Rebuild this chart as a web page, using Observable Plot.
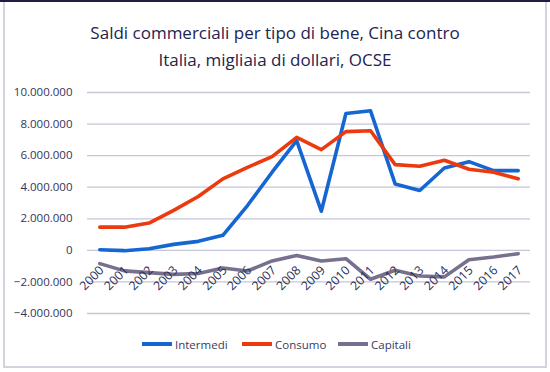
<!DOCTYPE html>
<html>
<head>
<meta charset="utf-8">
<script src="https://cdn.jsdelivr.net/npm/d3@7"></script>
<script src="https://cdn.jsdelivr.net/npm/@observablehq/plot@0.6"></script>
<style>
  html, body { margin: 0; padding: 0; background: #fff; }
  #wrap { position: relative; width: 550px; height: 372px; overflow: hidden; font-family: "Open Sans", sans-serif; }
  #topbar { position: absolute; left: 0; top: 0; width: 550px; height: 2px; background: #1d1d47; }
  #frame { position: absolute; left: 3px; top: 2px; width: 540px; height: 364px; border-left: 2px solid #d3d3de; border-right: 2px solid #d3d3de; border-bottom: 2px solid #d3d3de; }
  #title { position: absolute; left: 0; top: 19px; width: 550px; text-align: center; color: #23234f; font-size: 17px; line-height: 27px; }
  #chart { position: absolute; left: 0; top: 80px; }
  #legend { position: absolute; left: 0; top: 335px; width: 550px; height: 18px; }
  .item { position: absolute; top: 0; display: flex; align-items: center; height: 18px; font-size: 11.5px; color: #3a3a5c; }
  .swatch { width: 30px; height: 3.5px; margin-right: 3px; }
</style>
</head>
<body>
<div id="wrap">
  <div id="topbar"></div>
  <div id="frame"></div>
  <div id="title">Saldi commerciali per tipo di bene, Cina contro<br>Italia, migliaia di dollari, OCSE</div>
  <div id="chart"></div>
  <div id="legend"></div>
</div>
<script>
const years = [2000, 2001, 2002, 2003, 2004, 2005, 2006, 2007, 2008, 2009, 2010, 2011, 2012, 2013, 2014, 2015, 2016, 2017];
const intermedi = [40000, -20000, 100000, 380000, 570000, 950000, 2840000, 4950000, 6950000, 2480000, 8670000, 8840000, 4210000, 3790000, 5220000, 5620000, 5050000, 5050000];
const consumo = [1470000, 1470000, 1730000, 2530000, 3410000, 4530000, 5260000, 5940000, 7160000, 6380000, 7520000, 7580000, 5430000, 5330000, 5710000, 5140000, 4950000, 4530000];
const capitali = [-840000, -1300000, -1410000, -1520000, -1470000, -1120000, -1310000, -670000, -320000, -670000, -530000, -1830000, -1260000, -1620000, -1680000, -590000, -420000, -210000];
const yTicks = [-4000000, -2000000, 0, 2000000, 4000000, 6000000, 8000000, 10000000];
const seriesNames = ["Intermedi", "Consumo", "Capitali"];
const seriesColors = ["#1566d2", "#ec3a0e", "#77718f"];

const seriesValues = [intermedi, consumo, capitali];
const data = seriesNames.flatMap((name, i) => years.map((year, j) => ({series: name, year, value: seriesValues[i][j]})));
const fmt = v => v === 0 ? "0" : d3.format(",")(v).replace(/,/g, ".");

const chart = Plot.plot({
  width: 550,
  height: 245,
  marginLeft: 87,
  marginRight: 20,
  marginTop: 12,
  marginBottom: 12,
  style: {fontFamily: "Open Sans, sans-serif", fontSize: "11.5px", color: "#33335a", background: "transparent"},
  x: {domain: [1999.5, 2017.5], axis: null},
  y: {domain: [-4000000, 10000000], ticks: yTicks, tickFormat: fmt, tickSize: 0, tickPadding: 15, label: null},
  color: {domain: seriesNames, range: seriesColors},
  marks: [
    Plot.gridY(yTicks, {stroke: "#c6c6d8", strokeOpacity: 1, strokeWidth: 1.3}),
    Plot.line(data, {x: "year", y: "value", z: "series", stroke: "series", strokeWidth: 3.6, strokeLinejoin: "round", strokeLinecap: "round"}),
    Plot.text(years, {x: d => d, y: 0, text: d => String(d), rotate: -45, textAnchor: "end", dx: 2, dy: 18, fill: "#2e2e55", fontSize: 12.3})
  ]
});
document.getElementById("chart").appendChild(chart);

const legend = document.getElementById("legend");
const lefts = [142, 242, 338];
seriesNames.forEach((name, i) => {
  const item = document.createElement("div");
  item.className = "item";
  item.style.left = lefts[i] + "px";
  const sw = document.createElement("div");
  sw.className = "swatch";
  sw.style.background = seriesColors[i];
  const lab = document.createElement("span");
  lab.textContent = name;
  item.appendChild(sw);
  item.appendChild(lab);
  legend.appendChild(item);
});
</script>
</body>
</html>
